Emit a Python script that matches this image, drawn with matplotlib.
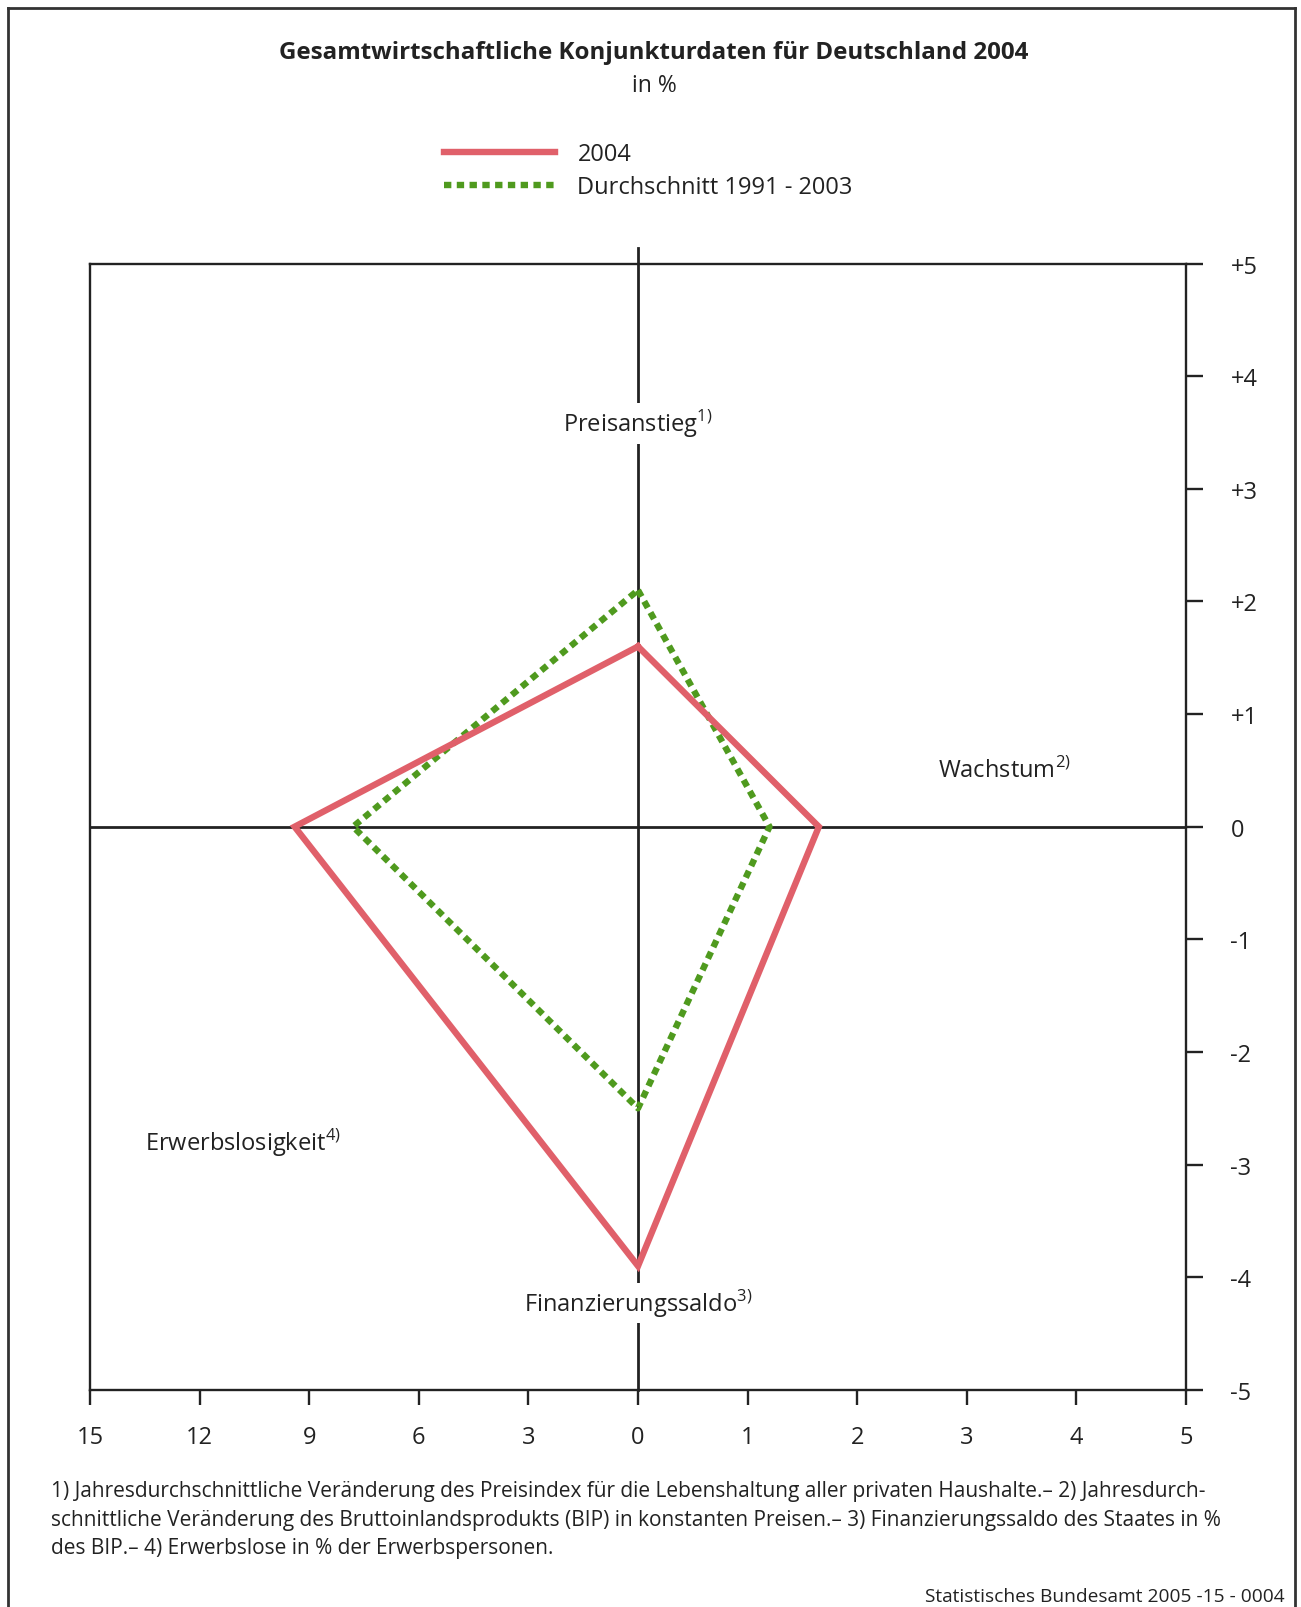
import matplotlib.pyplot as plt
from matplotlib.lines import Line2D

plt.rcParams['font.family'] = ['Open Sans', 'DejaVu Sans']
plt.rcParams['mathtext.fontset'] = 'custom'
plt.rcParams['mathtext.rm'] = 'Open Sans'

# Werte in % (Reihenfolge: Preisanstieg, Wachstum, Finanzierungssaldo, Erwerbslosigkeit)
indikatoren = ['Preisanstieg', 'Wachstum', 'Finanzierungssaldo', 'Erwerbslosigkeit']
werte_2004 = [1.6, 1.65, -3.9, 9.4]
werte_schnitt = [2.1, 1.2, -2.5, 7.8]
serien = ['2004', 'Durchschnitt 1991 - 2003']

links_ticks = [15, 12, 9, 6, 3, 0]
rechts_ticks = [1, 2, 3, 4, 5]
y_ticks = [5, 4, 3, 2, 1, 0, -1, -2, -3, -4, -5]

# Erwerbslosigkeit wird auf der linken Achse im Maßstab 1:3 abgetragen
faktor_links = 3.0


def viereck(w):
    preis, wachstum, saldo, erwerbslos = w
    xs = [0, wachstum, 0, -erwerbslos / faktor_links, 0]
    ys = [preis, 0, saldo, 0, preis]
    return xs, ys


fig = plt.figure(figsize=(13.01, 16.08), dpi=100)
ax = fig.add_axes([0.0692, 0.1350, 0.8424, 0.7005])
ax.set_xlim(-5, 5)
ax.set_ylim(-5, 5)

for s in ax.spines.values():
    s.set_linewidth(1.7)
    s.set_color('#222222')

# Achsenkreuz
ax.axvline(0, ymin=0, ymax=1.014, color='#222222', lw=2, clip_on=False, zorder=1)
ax.axhline(0, color='#222222', lw=2, zorder=1)

x1, y1 = viereck(werte_2004)
x2, y2 = viereck(werte_schnitt)
l1, = ax.plot(x1, y1, color='#e0606a', lw=4.6, solid_joinstyle='miter', zorder=3,
              label=serien[0])
l2, = ax.plot(x2, y2, color='#4f9a1e', lw=4.6, linestyle=(0, (1.15, 0.85)),
              dash_capstyle='butt', zorder=2, label=serien[1])

# x-Achse: links Erwerbslosigkeit (15..0), rechts Wachstum (0..5)
xpos = [-t / faktor_links for t in links_ticks] + rechts_ticks
xlab = [str(t) for t in links_ticks] + [str(t) for t in rechts_ticks]
ax.set_xticks(xpos)
ax.set_xticklabels(xlab, fontsize=17)
ax.tick_params(axis='x', direction='out', length=11, width=1.7, pad=14, colors='#222222')

ax.yaxis.tick_right()
ax.set_yticks(y_ticks)
ax.set_yticklabels(['+%d' % t if t > 0 else str(t) for t in y_ticks], fontsize=17)
ax.tick_params(axis='y', direction='out', length=12, width=1.7, pad=20, colors='#222222')

lab_kw = dict(fontsize=17, color='#222222', zorder=4)
box = dict(facecolor='white', edgecolor='none', pad=3)
ax.text(0, 3.58, indikatoren[0] + r'$^{\mathrm{1)}}$', ha='center', va='center', bbox=box, **lab_kw)
ax.text(2.74, 0.5, indikatoren[1] + r'$^{\mathrm{2)}}$', ha='left', va='center', **lab_kw)
ax.text(0, -4.23, indikatoren[2] + r'$^{\mathrm{3)}}$', ha='center', va='center', bbox=box, **lab_kw)
ax.text(-4.5, -2.8, indikatoren[3] + r'$^{\mathrm{4)}}$', ha='left', va='center', **lab_kw)

# Titel
fig.text(654 / 1301, 1 - 53 / 1608, 'Gesamtwirtschaftliche Konjunkturdaten für Deutschland 2004',
         ha='center', va='center', fontsize=17.4, fontweight='bold', color='#222222')
fig.text(654 / 1301, 1 - 86 / 1608, 'in %', ha='center', va='center', fontsize=16.5, color='#222222')

leg = ax.legend(handles=[l1, l2], loc='upper left', bbox_to_anchor=(444 / 1301, 1 - 143 / 1608),
                bbox_transform=fig.transFigure, frameon=False, fontsize=17, handlelength=4.7,
                handletextpad=0.95, labelspacing=0.4, borderpad=0, borderaxespad=0)
for t in leg.get_texts():
    t.set_color('#222222')

fussnote = ('1) Jahresdurchschnittliche Veränderung des Preisindex für die Lebenshaltung aller privaten Haushalte.– 2) Jahresdurch-\n'
            'schnittliche Veränderung des Bruttoinlandsprodukts (BIP) in konstanten Preisen.– 3) Finanzierungssaldo des Staates in %\n'
            'des BIP.– 4) Erwerbslose in % der Erwerbspersonen.')
fig.text(51 / 1301, 1 - 1481 / 1608, fussnote, ha='left', va='top', fontsize=15,
         linespacing=1.48, color='#222222')
fig.text(1285 / 1301, 1 - 1597 / 1608, 'Statistisches Bundesamt 2005 -15 - 0004', ha='right',
         va='center', fontsize=13.8, color='#222222')

# Rahmen um die Grafik
rk = dict(color='#333333', lw=2, transform=fig.transFigure)
fig.add_artist(Line2D([8 / 1301, 8 / 1301], [0, 1 - 9 / 1608], **rk))
fig.add_artist(Line2D([8 / 1301, 1295 / 1301], [1 - 9 / 1608, 1 - 9 / 1608], **rk))
fig.add_artist(Line2D([1295 / 1301, 1295 / 1301], [0, 1 - 9 / 1608], **rk))

fig.savefig('out.png', dpi=100, facecolor='white')
